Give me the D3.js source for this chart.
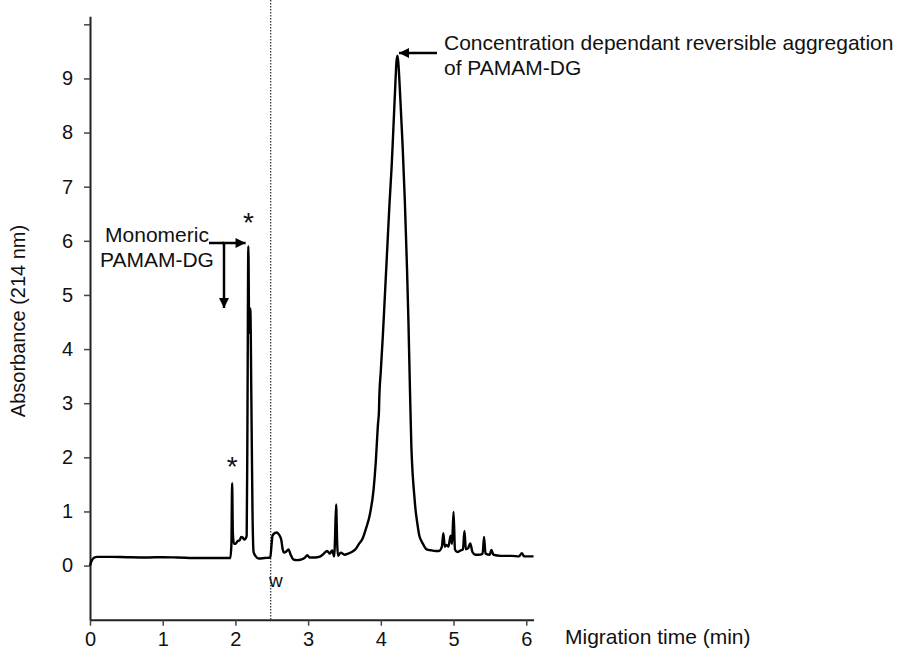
<!DOCTYPE html>
<html><head><meta charset="utf-8">
<script src="https://cdn.jsdelivr.net/npm/d3@7"></script>
<style>
html,body{margin:0;padding:0;background:#fff;}
text{font-family:"Liberation Sans",Arial,Helvetica,sans-serif;fill:#111;}
</style></head>
<body><svg id="c" width="906" height="652"></svg>
<script>
// Migration time (min)
const time = [0,0.02,0.05,0.1,0.3,0.5,0.8,1.0,1.2,1.5,1.8,1.93,1.945,1.955,1.965,1.98,2.0,2.03,2.06,2.08,2.1,2.12,2.14,2.155,2.165,2.178,2.19,2.205,2.22,2.235,2.25,2.28,2.32,2.4,2.48,2.495,2.51,2.54,2.57,2.6,2.63,2.65,2.67,2.7,2.73,2.76,2.8,2.85,2.9,2.95,2.99,3.02,3.1,3.15,3.2,3.26,3.3,3.33,3.36,3.37,3.385,3.4,3.41,3.45,3.5,3.55,3.6,3.65,3.7,3.75,3.8,3.85,3.9,3.93,3.96,3.975,3.978,4.0,4.03,4.06,4.09,4.12,4.15,4.18,4.2,4.215,4.228,4.24,4.26,4.28,4.3,4.33,4.36,4.38,4.4,4.42,4.44,4.46,4.48,4.5,4.53,4.56,4.58,4.6,4.63,4.7,4.75,4.8,4.84,4.86,4.88,4.9,4.93,4.96,4.98,5.0,5.02,5.05,5.1,5.13,5.15,5.17,5.2,5.23,5.26,5.3,5.35,5.4,5.42,5.44,5.5,5.52,5.55,5.65,5.8,5.9,5.94,5.97,6.1];
// Absorbance (214 nm)
const absorbance = [0,0.08,0.14,0.16,0.16,0.155,0.15,0.155,0.15,0.14,0.14,0.14,0.4,1.52,0.6,0.4,0.4,0.45,0.47,0.53,0.52,0.48,0.5,0.55,2.5,5.9,4.3,4.75,3.0,1.0,0.25,0.17,0.13,0.14,0.15,0.35,0.55,0.6,0.61,0.57,0.48,0.3,0.24,0.26,0.3,0.2,0.11,0.1,0.11,0.14,0.19,0.15,0.15,0.16,0.2,0.27,0.22,0.28,0.17,0.5,1.13,0.4,0.18,0.24,0.2,0.22,0.25,0.3,0.4,0.5,0.7,0.95,1.4,1.9,2.6,2.87,3.05,3.6,4.3,5.1,5.9,6.7,7.4,8.3,8.9,9.3,9.42,9.3,8.85,8.3,7.75,6.75,5.5,4.5,3.3,2.2,1.65,1.3,1.0,0.8,0.55,0.45,0.4,0.35,0.3,0.28,0.27,0.27,0.35,0.6,0.35,0.38,0.35,0.55,0.4,0.99,0.3,0.25,0.28,0.3,0.64,0.3,0.32,0.41,0.25,0.2,0.2,0.22,0.53,0.22,0.2,0.29,0.2,0.18,0.18,0.17,0.23,0.17,0.17];
const xTicks = [0,1,2,3,4,5,6];
const yTicks = [0,1,2,3,4,5,6,7,8,9,10];
const yTickLabels = ["0","1","2","3","4","5","6","7","8","9",""];
const xDomain = [0, 6.1];
const yDomain = [-1, 10.15];
const waterTime = 2.485;

const svg = d3.select("#c");
const x = d3.scaleLinear().domain(xDomain).range([90, 533.5]);
const y = d3.scaleLinear().domain(yDomain).range([619.7, 16.2]);

// dotted marker line
svg.append("line")
  .attr("x1", x(waterTime)).attr("x2", x(waterTime))
  .attr("y1", 0).attr("y2", y(yDomain[0]))
  .attr("stroke", "#444").attr("stroke-width", 1.4)
  .attr("stroke-dasharray", "1.5,1.5");

// axes
const gx = svg.append("g").attr("transform", `translate(0,${y(yDomain[0])})`)
  .call(d3.axisBottom(x).tickValues(xTicks).tickFormat(d3.format("d")).tickSize(6).tickPadding(6).tickSizeOuter(0));
const gy = svg.append("g").attr("transform", `translate(${x(0)},0)`)
  .call(d3.axisLeft(y).tickValues(yTicks).tickFormat((d,i)=>yTickLabels[i]).tickSize(6).tickPadding(11).tickSizeOuter(0));
[gx, gy].forEach(g => {
  g.select(".domain").attr("stroke", "#222").attr("stroke-width", 2);
  g.selectAll(".tick line").attr("stroke", "#444").attr("stroke-width", 1.5);
  g.selectAll(".tick text").attr("font-size", 20).attr("fill", "#111")
   .attr("font-family", "Liberation Sans, Arial, sans-serif");
});

// trace
const line = d3.line().curve(d3.curveMonotoneX).x((d,i)=>x(time[i])).y((d,i)=>y(absorbance[i]));
svg.append("path").datum(absorbance)
  .attr("d", line).attr("fill", "none")
  .attr("stroke", "#000").attr("stroke-width", 2.4).attr("stroke-linejoin", "round");

// labels
svg.append("text").attr("x", 565).attr("y", 644).attr("font-size", 21).text("Migration time (min)");
svg.append("text").attr("transform", "translate(25,321) rotate(-90)")
  .attr("text-anchor", "middle").attr("font-size", 20).text("Absorbance (214 nm)");

// annotations
const defs = svg.append("defs");
defs.append("marker").attr("id", "ah").attr("viewBox", "0 0 10 10")
  .attr("refX", 10).attr("refY", 5).attr("markerWidth", 6).attr("markerHeight", 4)
  .attr("orient", "auto").attr("markerUnits", "strokeWidth")
  .append("path").attr("d", "M0,0 L10,5 L0,10 z").attr("fill", "#000");

function arrow(x1, y1, x2, y2) {
  svg.append("line").attr("x1", x1).attr("y1", y1).attr("x2", x2).attr("y2", y2)
    .attr("stroke", "#000").attr("stroke-width", 2.5).attr("marker-end", "url(#ah)");
}
// aggregation peak arrow
arrow(437, 53, x(4.25), 53);
svg.append("text").attr("x", 444).attr("y", 50).attr("font-size", 21).text("Concentration dependant reversible aggregation");
svg.append("text").attr("x", 444).attr("y", 75).attr("font-size", 21).text("of PAMAM-DG");

// monomeric
svg.append("text").attr("x", 157).attr("y", 242).attr("text-anchor", "middle").attr("font-size", 21).text("Monomeric");
svg.append("text").attr("x", 157).attr("y", 267).attr("text-anchor", "middle").attr("font-size", 21).text("PAMAM-DG");
svg.append("line").attr("x1", 209).attr("y1", 243).attr("x2", 224).attr("y2", 243).attr("stroke", "#000").attr("stroke-width", 2.5);
arrow(222, 243, x(2.14), 243);
arrow(224, 243, 224, 308);

// asterisks and w
svg.append("text").attr("x", x(2.18)).attr("y", 232).attr("text-anchor", "middle").attr("font-size", 28).text("*");
svg.append("text").attr("x", x(1.955)).attr("y", 476).attr("text-anchor", "middle").attr("font-size", 28).text("*");
svg.append("text").attr("x", 269).attr("y", 587).attr("font-size", 19).text("w");
</script></body></html>
